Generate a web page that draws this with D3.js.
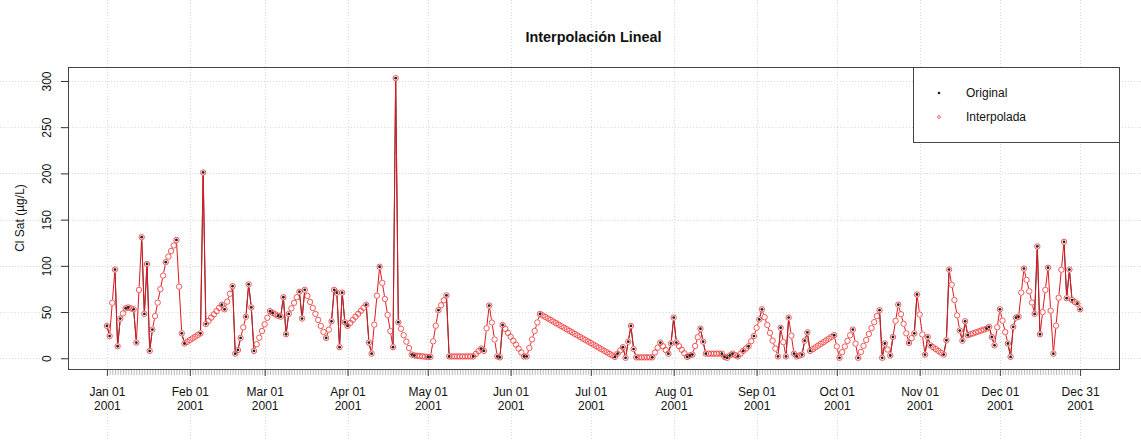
<!DOCTYPE html>
<html>
<head>
<meta charset="utf-8">
<script src="https://cdn.jsdelivr.net/npm/d3@7"></script>
<style>
  body { margin: 0; background: #fff; }
  svg text { font-family: "Liberation Sans", Arial, Helvetica, sans-serif; fill: #111; }
</style>
</head>
<body>
<svg id="chart" width="1141" height="441"></svg>
<script>
// ---- data -------------------------------------------------------------
const startDate = "2001-01-01";

// daily series after linear interpolation (one value per day, Jan 01 .. Dec 31)
const interpolated = [
  35, 24, 60, 96, 13, 43, 48.5, 54, 55, 54,
  53, 17, 74, 131, 48, 102, 8, 31, 45.6, 60.2,
  74.8, 89.4, 104, 110, 116, 122, 128, 77.5, 27, 16,
  17.8, 19.7, 21.5, 23.3, 25.2, 27, 201, 37, 40.5, 44,
  47.5, 51, 54.5, 58, 53, 61.3, 69.7, 78, 5, 9,
  22, 33.5, 45, 80, 55, 8, 15.2, 22.3, 29.5, 36.7,
  43.8, 51, 49, 47.5, 46, 45, 66, 26, 48, 54,
  60, 66, 72, 43, 74, 67.5, 61, 54.5, 48, 41.5,
  35, 28.5, 22, 31, 40, 74, 71, 12, 71, 39,
  35, 38.3, 41.6, 44.9, 48.1, 51.4, 54.7, 58, 17, 5,
  36.3, 67.7, 99, 81.6, 64.2, 46.8, 29.4, 12, 303, 39,
  32, 25, 18, 11, 4, 3, 2.7, 2.4, 2.1, 1.8,
  1.5, 1.5, 18.3, 35.2, 52, 57.3, 62.7, 68, 2, 2,
  2, 2, 2, 2, 2, 2, 2, 2, 4.8, 7.7,
  10.5, 8, 32.5, 57, 38.7, 20.3, 2, 1, 36, 31.8,
  27.5, 23.3, 19, 14.8, 10.5, 6.3, 2, 2, 11.2, 20.4,
  29.6, 38.8, 48, 46.3, 44.7, 43, 41.4, 39.7, 38, 36.4,
  34.7, 33.1, 31.4, 29.7, 28.1, 26.4, 24.8, 23.1, 21.4, 19.8,
  18.1, 16.5, 14.8, 13.1, 11.5, 9.8, 8.1, 6.5, 4.8, 3.2,
  1.5, 5, 8.5, 12, 0.5, 18, 35, 10, 1, 1,
  1, 1, 1, 1, 1, 6.2, 11.4, 17, 13, 9,
  5, 16, 44, 17, 13.1, 9.3, 5.4, 1.5, 3, 4,
  13.3, 22.7, 32, 18, 5, 5, 5, 5, 5, 5,
  5, 1.5, 0.5, 3, 5, 3.5, 2, 5, 8, 10.5,
  13, 18.5, 24, 33, 42, 53, 44.5, 36, 27.5, 19,
  10.5, 2, 33, 17.5, 2, 44, 24.5, 5, 2, 3,
  4, 19, 28, 8, 9.9, 11.8, 13.7, 15.6, 17.4, 19.3,
  21.2, 23.1, 25, 12.8, 0.5, 6.6, 12.7, 18.8, 24.9, 31,
  15.8, 0.5, 6.9, 13.4, 19.8, 26.3, 32.7, 39.1, 45.6, 52,
  0.5, 16, 9.5, 3, 23, 40.5, 58, 47.7, 37.3, 27,
  16.6, 21.8, 27, 69, 47.3, 25.7, 4, 23, 14, 12,
  10, 8, 6, 4, 19.5, 96, 79.5, 63, 46.5, 30,
  19, 40, 25, 26, 27, 28, 29, 30, 31, 32,
  34, 23, 14, 33.5, 53, 40.7, 28.3, 16, 1.5, 34,
  44, 45, 71, 97, 84.8, 72.5, 60.3, 48, 121, 26,
  50, 74, 98, 51.5, 5, 35.3, 65.5, 95.8, 126, 65,
  96, 63, 61, 59, 53
];

// day-of-year indices (0 = Jan 01) that carry an actual measurement
const observedDays = [
  0, 1, 3, 4, 5, 7, 8, 10, 11, 13, 14, 15, 16, 17, 22, 26, 28, 29, 35, 36, 37,
  43, 44, 47, 48, 49, 50, 52, 53, 54, 55, 61, 62, 64, 65, 66, 67, 68, 72, 73, 74,
  82, 84, 85, 86, 87, 88, 89, 90, 97, 98, 99, 102, 107, 108, 109, 114, 115, 120,
  121, 124, 127, 128, 137, 140, 141, 143, 146, 147, 148, 156, 157, 162, 190, 191,
  193, 194, 195, 196, 197, 198, 204, 207, 210, 211, 212, 213, 217, 218, 219, 222,
  223, 224, 230, 231, 232, 233, 234, 236, 238, 240, 242, 244, 245, 251, 252, 254,
  255, 257, 258, 260, 261, 262, 263, 272, 274, 279, 281, 289, 290, 291, 293, 294,
  296, 300, 302, 303, 306, 307, 308, 313, 314, 315, 319, 320, 321, 322, 329, 330,
  331, 332, 334, 337, 338, 339, 340, 341, 343, 347, 348, 349, 352, 354, 358, 359,
  360, 361, 363, 364
];

const yTicks = [0, 50, 100, 150, 200, 250, 300];
const xTickDates = [
  "2001-01-01", "2001-02-01", "2001-03-01", "2001-04-01", "2001-05-01", "2001-06-01",
  "2001-07-01", "2001-08-01", "2001-09-01", "2001-10-01", "2001-11-01", "2001-12-01",
  "2001-12-31"
];
const titleText = "Interpolación Lineal";
const yLabelText = "Cl Sat (µg/L)";
const legendLabels = ["Original", "Interpolada"];

// ---- layout -----------------------------------------------------------
const W = 1141, H = 441;
const box = { left: 68, right: 1119, top: 67, bottom: 369 };
const svg = d3.select("#chart");
svg.append("rect").attr("width", W).attr("height", H).attr("fill", "#fff");

const parse = d3.utcParse("%Y-%m-%d");
const t0 = parse(startDate);
const dates = interpolated.map((_, i) => d3.utcDay.offset(t0, i));
const obsSet = new Set(observedDays);
const observed = interpolated.map((v, i) => (obsSet.has(i) ? v : null));

// both axes padded by 4% of the data range, like base graphics
const xExt = d3.extent(dates);
const xSpan = xExt[1] - xExt[0];
const x = d3.scaleUtc()
  .domain([new Date(+xExt[0] - 0.04 * xSpan), new Date(+xExt[1] + 0.04 * xSpan)])
  .range([box.left, box.right]);
const yExt = d3.extent(interpolated);
const ySpan = yExt[1] - yExt[0];
const y = d3.scaleLinear()
  .domain([yExt[0] - 0.04 * ySpan, yExt[1] + 0.04 * ySpan])
  .range([box.bottom, box.top]);

const majorDates = xTickDates.map(parse);

// ---- grid (spans the whole canvas) -------------------------------------
const grid = svg.append("g")
  .attr("stroke", "#d9d9d9").attr("stroke-width", 1).attr("stroke-dasharray", "1,2");
grid.selectAll("line.v").data(majorDates).join("line").attr("class", "v")
  .attr("x1", d => Math.round(x(d)) + 0.5).attr("x2", d => Math.round(x(d)) + 0.5)
  .attr("y1", 0).attr("y2", H);
grid.selectAll("line.h").data(yTicks).join("line").attr("class", "h")
  .attr("y1", d => Math.round(y(d)) + 0.5).attr("y2", d => Math.round(y(d)) + 0.5)
  .attr("x1", 0).attr("x2", W);

// ---- axes --------------------------------------------------------------
const yAxis = svg.append("g")
  .attr("transform", `translate(${box.left},0)`)
  .call(d3.axisLeft(y).tickValues(yTicks).tickSize(7).tickPadding(0));
yAxis.select(".domain").remove();
yAxis.selectAll(".tick line").attr("stroke", "#333");
yAxis.selectAll(".tick text")
  .attr("x", 0).attr("dy", null)
  .attr("text-anchor", "middle")
  .attr("dominant-baseline", "central")
  .attr("transform", "translate(-21,0) rotate(-90)")
  .style("font-size", "12px").style("font-family", null);

// daily minor ticks
const minorAxis = svg.append("g")
  .attr("transform", `translate(0,${box.bottom})`)
  .call(d3.axisBottom(x).tickValues(dates).tickSize(6).tickFormat(""));
minorAxis.select(".domain").remove();
minorAxis.selectAll(".tick line").attr("stroke", "#9a9a9a").attr("stroke-width", 0.7);

const fmtDay = d3.utcFormat("%b %d"), fmtYear = d3.utcFormat("%Y");
const xAxis = svg.append("g")
  .attr("transform", `translate(0,${box.bottom})`)
  .call(d3.axisBottom(x).tickValues(majorDates).tickSize(7).tickFormat(""));
xAxis.select(".domain").remove();
xAxis.selectAll(".tick line").attr("stroke", "#444");
xAxis.selectAll(".tick").each(function (d) {
  const t = d3.select(this).append("text")
    .attr("text-anchor", "middle").style("font-size", "12px").attr("fill", "#111");
  t.append("tspan").attr("x", 0).attr("y", 27).text(fmtDay(d));
  t.append("tspan").attr("x", 0).attr("y", 41).text(fmtYear(d));
});

// ---- series ------------------------------------------------------------
// connecting segments with a small gap around each symbol
const GAP = 3.2;
function gappedSegments(pts) {
  let p = "";
  for (let i = 0; i < pts.length - 1; i++) {
    const a = pts[i], b = pts[i + 1];
    if (!a || !b) continue;
    const dx = b[0] - a[0], dy = b[1] - a[1];
    const L = Math.hypot(dx, dy);
    if (L <= 2 * GAP) continue;
    const ux = dx / L, uy = dy / L;
    p += `M${(a[0] + ux * GAP).toFixed(2)},${(a[1] + uy * GAP).toFixed(2)}` +
         `L${(b[0] - ux * GAP).toFixed(2)},${(b[1] - uy * GAP).toFixed(2)}`;
  }
  return p;
}
const interpPts = interpolated.map((v, i) => [x(dates[i]), y(v)]);
const obsPts = observed.map((v, i) => (v == null ? null : [x(dates[i]), y(v)]));

svg.append("path").attr("d", gappedSegments(obsPts))
  .attr("fill", "none").attr("stroke", "#333").attr("stroke-width", 1);
svg.append("path").attr("d", gappedSegments(interpPts))
  .attr("fill", "none").attr("stroke", "#e01820").attr("stroke-width", 1);

svg.append("g").selectAll("circle").data(interpolated).join("circle")
  .attr("cx", (d, i) => x(dates[i])).attr("cy", d => y(d)).attr("r", 2.7)
  .attr("fill", "none").attr("stroke", "#ee3030").attr("stroke-width", 0.8);

svg.append("g").selectAll("circle")
  .data(observed.map((v, i) => ({ v, i })).filter(d => d.v != null)).join("circle")
  .attr("cx", d => x(dates[d.i])).attr("cy", d => y(d.v)).attr("r", 1.4)
  .attr("fill", "#222");

// ---- frame -------------------------------------------------------------
svg.append("rect")
  .attr("x", box.left + 0.5).attr("y", box.top + 0.5)
  .attr("width", box.right - box.left).attr("height", box.bottom - box.top)
  .attr("fill", "none").attr("stroke", "#444").attr("stroke-width", 1);

// ---- titles ------------------------------------------------------------
svg.append("text")
  .attr("x", (box.left + box.right) / 2).attr("y", 42)
  .attr("text-anchor", "middle").style("font-size", "14.4px").style("font-weight", "bold")
  .text(titleText);
svg.append("text")
  .attr("transform", `translate(20,${(box.top + box.bottom) / 2}) rotate(-90)`)
  .attr("text-anchor", "middle").attr("dominant-baseline", "central")
  .style("font-size", "12px").text(yLabelText);

// ---- legend ------------------------------------------------------------
const lg = svg.append("g");
lg.append("rect").attr("x", 913.5).attr("y", box.top + 0.5).attr("width", box.right - 913)
  .attr("height", 75).attr("fill", "#fff").attr("stroke", "#444");
lg.append("circle").attr("cx", 939).attr("cy", 93).attr("r", 1.3).attr("fill", "#222");
lg.append("circle").attr("cx", 939).attr("cy", 117).attr("r", 1.4)
  .attr("fill", "none").attr("stroke", "#ee3030").attr("stroke-width", 0.7);
lg.selectAll("text").data(legendLabels).join("text")
  .attr("x", 966).attr("y", (d, i) => 93 + i * 24).attr("dominant-baseline", "central")
  .style("font-size", "12px").text(d => d);
</script>
</body>
</html>
